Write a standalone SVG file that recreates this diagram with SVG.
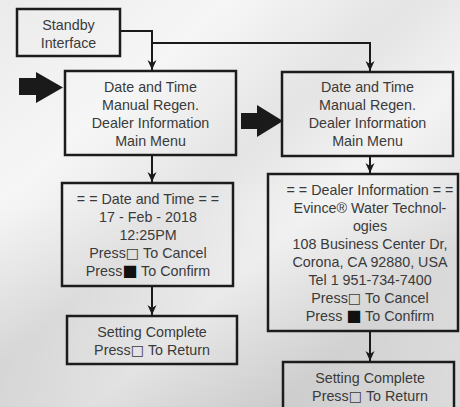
<svg xmlns="http://www.w3.org/2000/svg" width="460" height="407" viewBox="0 0 460 407">
<defs>
<linearGradient id="bg" x1="0" y1="0" x2="1" y2="1">
<stop offset="0" stop-color="#ebebeb"/>
<stop offset="0.25" stop-color="#f6f6f6"/>
<stop offset="0.45" stop-color="#e4e4e4"/>
<stop offset="0.6" stop-color="#f3f3f3"/>
<stop offset="0.8" stop-color="#dedede"/>
<stop offset="1" stop-color="#eeeeee"/>
</linearGradient>
<linearGradient id="shade" x1="0" y1="0" x2="0" y2="1">
<stop offset="0.5" stop-color="#000" stop-opacity="0"/>
<stop offset="1" stop-color="#000" stop-opacity="0.08"/>
</linearGradient>
<marker id="ah" markerUnits="userSpaceOnUse" markerWidth="10" markerHeight="10" viewBox="0 0 10 10" refX="10" refY="5" orient="auto">
<path d="M0,0.5 L10,5 L0,9.5 L3,5 Z" fill="#1a1a1a"/>
</marker>
<style>
.box{fill:none;stroke:#1c1c1c;stroke-width:2.5}
.t{font-family:"Liberation Sans","DejaVu Sans",sans-serif;font-size:14.3px;fill:#3a3a3a;text-anchor:middle}
.sq{font-family:"DejaVu Sans",sans-serif;font-size:14.3px}
.fsq{font-family:"DejaVu Sans",sans-serif;font-size:16px;fill:#111}
.c{fill:none;stroke:#1a1a1a;stroke-width:2}
.big{fill:#1a1a1a}
</style>
</defs>
<rect width="460" height="407" fill="url(#bg)"/>
<rect width="460" height="407" fill="url(#shade)"/>

<g id="connectors">
<polyline class="c" points="120,31 152,31 152,70" marker-end="url(#ah)"/>
<polyline class="c" points="152,43 370,43 370,71" marker-end="url(#ah)"/>
<line class="c" x1="152" y1="156" x2="152" y2="182" marker-end="url(#ah)"/>
<line class="c" x1="152" y1="287" x2="152" y2="315" marker-end="url(#ah)"/>
<line class="c" x1="370" y1="157" x2="370" y2="173" marker-end="url(#ah)"/>
<line class="c" x1="370" y1="332" x2="370" y2="361" marker-end="url(#ah)"/>
<polygon class="big" points="19,78 36,78 36,72 63,87.5 36,103 36,95 19,95"/>
<polygon class="big" points="241,113 257,113 257,105 283,121 257,137 257,129 241,129"/>
</g>

<g id="standby">
<rect class="box" x="17" y="9" width="103" height="47"/>
<text class="t" x="68.5" y="30">Standby</text>
<text class="t" x="68.5" y="48">Interface</text>
</g>

<g id="menu-left">
<rect class="box" x="65" y="71" width="171" height="84"/>
<text class="t" x="150.5" y="92">Date and Time</text>
<text class="t" x="150.5" y="110">Manual Regen.</text>
<text class="t" x="150.5" y="128">Dealer Information</text>
<text class="t" x="150.5" y="146">Main Menu</text>
</g>

<g id="menu-right">
<rect class="box" x="282" y="72" width="171" height="84"/>
<text class="t" x="367.5" y="92">Date and Time</text>
<text class="t" x="367.5" y="110">Manual Regen.</text>
<text class="t" x="367.5" y="128">Dealer Information</text>
<text class="t" x="367.5" y="146">Main Menu</text>
</g>

<g id="date-time">
<rect class="box" x="62" y="183" width="171" height="103"/>
<text class="t" x="148" y="204">= = Date and Time = =</text>
<text class="t" x="148" y="222">17 - Feb - 2018</text>
<text class="t" x="148" y="240">12:25PM</text>
<text class="t" x="148" y="258">Press<tspan class="sq">□</tspan> To Cancel</text>
<text class="t" x="148" y="276">Press<tspan class="fsq">■</tspan> To Confirm</text>
</g>

<g id="dealer-info">
<rect class="box" x="268" y="174" width="190" height="157"/>
<text class="t" x="370" y="195">= = Dealer Information = =</text>
<text class="t" x="370" y="213">Evince® Water Technol-</text>
<text class="t" x="370" y="231">ogies</text>
<text class="t" x="370" y="249">108 Business Center Dr,</text>
<text class="t" x="370" y="267">Corona, CA 92880, USA</text>
<text class="t" x="370" y="285">Tel 1 951-734-7400</text>
<text class="t" x="370" y="303">Press<tspan class="sq">□</tspan> To Cancel</text>
<text class="t" x="370" y="321">Press <tspan class="fsq">■</tspan> To Confirm</text>
</g>

<g id="complete-left">
<rect class="box" x="67" y="316" width="170" height="48"/>
<text class="t" x="152" y="337">Setting Complete</text>
<text class="t" x="152" y="355">Press<tspan class="sq">□</tspan> To Return</text>
</g>

<g id="complete-right">
<rect class="box" x="283" y="362" width="171" height="60"/>
<text class="t" x="370" y="383">Setting Complete</text>
<text class="t" x="370" y="401">Press<tspan class="sq">□</tspan> To Return</text>
</g>
</svg>
